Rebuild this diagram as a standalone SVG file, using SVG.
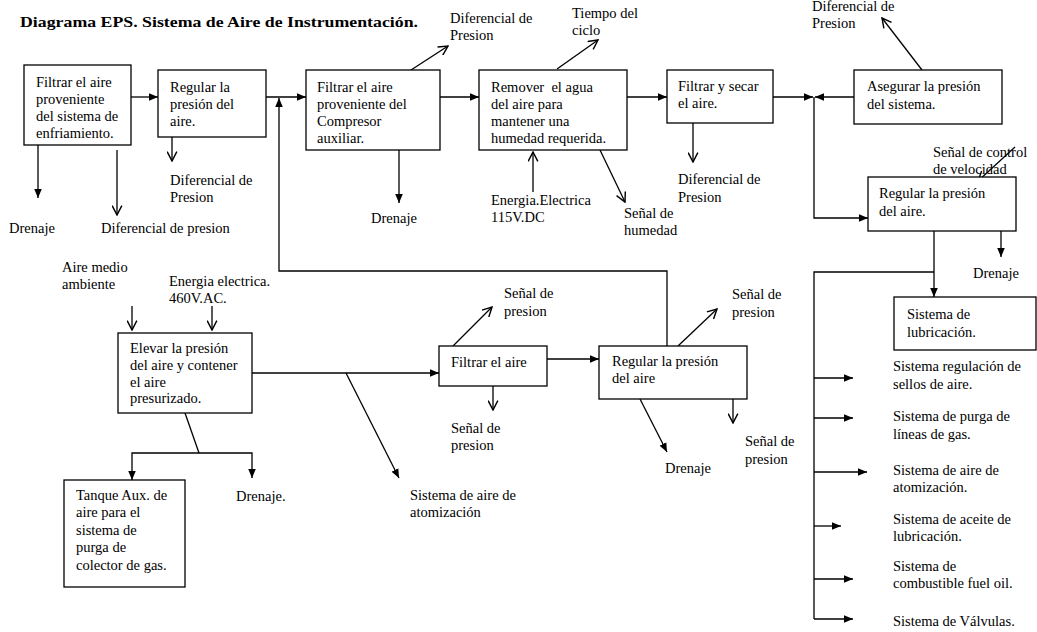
<svg xmlns="http://www.w3.org/2000/svg" width="1037" height="632" viewBox="0 0 1037 632" font-family="Liberation Serif, Tinos, DejaVu Serif, serif">
<style>
.t{font-family:'Liberation Serif',Tinos,'Times New Roman',serif;font-size:14.5px;fill:#000}
.title{font-family:'Liberation Serif',Tinos,'Times New Roman',serif;font-size:15.5px;font-weight:bold;fill:#000}
.box{fill:#fff;stroke:#000;stroke-width:1.3}
.c{fill:none;stroke:#000;stroke-width:1.3}
.f{marker-end:url(#af)}
.v{marker-end:url(#av)}
</style>
<defs>
<marker id="af" viewBox="0 0 10 10" refX="10" refY="5" markerWidth="9" markerHeight="9" markerUnits="userSpaceOnUse" orient="auto"><path d="M0,0.8 L10,5 L0,9.2 z" fill="#000"/></marker>
<marker id="av" viewBox="0 0 10 10" refX="9.3" refY="5" markerWidth="11" markerHeight="11" markerUnits="userSpaceOnUse" orient="auto"><path d="M0.8,0.6 L9.3,5 L0.8,9.4" fill="none" stroke="#000" stroke-width="1.3"/></marker>
</defs>
<rect width="1037" height="632" fill="#fff"/>
<text class="title" x="20" y="27" textLength="398" lengthAdjust="spacingAndGlyphs">Diagrama EPS. Sistema de Aire de Instrumentación.</text>

<g id="connectors">
<path class="c f" d="M131,97 H158"/>
<path class="c f" d="M38,145 V198"/>
<path class="c v" d="M117,150 V215"/>
<path class="c v" d="M172,137 V161"/>
<path class="c f" d="M266,97 H306"/>
<path class="c f" d="M667,346 V271 H279 V98"/>
<path class="c v" d="M411,70 L448,46"/>
<path class="c f" d="M399,150 V203"/>
<path class="c f" d="M440,97 H479"/>
<path class="c v" d="M557,69 L598,40"/>
<path class="c v" d="M533,192 V152"/>
<path class="c v" d="M600,150 L625,202"/>
<path class="c f" d="M627,97 H667"/>
<path class="c v" d="M693,123 V162"/>
<path class="c f" d="M773,97 H813"/>
<path class="c f" d="M854,97 H815"/>
<path class="c v" d="M922,70 L882,18"/>
<path class="c f" d="M814,97 V218 H868"/>
<path class="c v" d="M1015,147 L978,181"/>
<path class="c f" d="M934,231 V297"/>
<path class="c f" d="M1001,231 V257"/>
<path class="c" d="M934,272 H814 V619"/>
<path class="c f" d="M814,378 H853"/>
<path class="c f" d="M814,418 H853"/>
<path class="c f" d="M814,472 H867"/>
<path class="c f" d="M814,526 H841"/>
<path class="c f" d="M814,579 H853"/>
<path class="c f" d="M814,619 H853"/>
<path class="c v" d="M132,306 V330"/>
<path class="c v" d="M212,306 V330"/>
<path class="c f" d="M252,373 H439"/>
<path class="c f" d="M346,373 L399,478"/>
<path class="c" d="M185,413 L199,453"/>
<path class="c f" d="M199,453 H132 V480"/>
<path class="c f" d="M199,453 H252 V478"/>
<path class="c v" d="M453,346 L492,307"/>
<path class="c v" d="M493,386 V410"/>
<path class="c f" d="M547,359 H599"/>
<path class="c v" d="M678,346 L717,309"/>
<path class="c v" d="M733,399 V423"/>
<path class="c f" d="M640,399 L667,452"/>
</g>

<g id="n1"><rect class="box" x="24" y="65" width="107" height="80"/>
<text class="t" x="36" y="87">Filtrar el aire</text><text class="t" x="36" y="104">proveniente</text><text class="t" x="36" y="121">del sistema de</text><text class="t" x="36" y="138">enfriamiento.</text></g>
<g id="n2"><rect class="box" x="158" y="70" width="108" height="67"/>
<text class="t" x="170" y="92">Regular la</text><text class="t" x="170" y="109">presión del</text><text class="t" x="170" y="126">aire.</text></g>
<g id="n3"><rect class="box" x="306" y="70" width="134" height="80"/>
<text class="t" x="317" y="92">Filtrar el aire</text><text class="t" x="317" y="109">proveniente del</text><text class="t" x="317" y="126">Compresor</text><text class="t" x="317" y="143">auxiliar.</text></g>
<g id="n4"><rect class="box" x="479" y="70" width="148" height="80"/>
<text class="t" x="491" y="92">Remover&#160; el agua</text><text class="t" x="491" y="109">del aire para</text><text class="t" x="491" y="126">mantener una</text><text class="t" x="491" y="143">humedad requerida.</text></g>
<g id="n5"><rect class="box" x="667" y="70" width="106" height="53"/>
<text class="t" x="678" y="91">Filtrar y secar</text><text class="t" x="678" y="108">el aire.</text></g>
<g id="n6"><rect class="box" x="854" y="70" width="148" height="54"/>
<text class="t" x="867" y="91">Asegurar la presión</text><text class="t" x="867" y="109">del sistema.</text></g>
<g id="n7"><rect class="box" x="868" y="177" width="148" height="54"/>
<text class="t" x="879" y="198">Regular la presión</text><text class="t" x="879" y="216">del aire.</text></g>
<g id="n8"><rect class="box" x="894" y="297" width="142" height="53"/>
<text class="t" x="907" y="319">Sistema de</text><text class="t" x="907" y="337">lubricación.</text></g>
<g id="n9"><rect class="box" x="118" y="333" width="134" height="80"/>
<text class="t" x="130" y="353">Elevar la presión</text><text class="t" x="130" y="370">del aire y contener</text><text class="t" x="130" y="387">el aire</text><text class="t" x="130" y="403">presurizado.</text></g>
<g id="n10"><rect class="box" x="439" y="346" width="108" height="40"/>
<text class="t" x="451" y="367">Filtrar el aire</text></g>
<g id="n11"><rect class="box" x="64" y="480" width="121" height="107"/>
<text class="t" x="76" y="500">Tanque Aux. de</text><text class="t" x="76" y="517">aire para el</text><text class="t" x="76" y="535">sistema de</text><text class="t" x="76" y="552">purga de</text><text class="t" x="76" y="570">colector de gas.</text></g>
<g id="n12"><rect class="box" x="599" y="346" width="148" height="53"/>
<text class="t" x="612" y="366">Regular la presión</text><text class="t" x="612" y="383">del aire</text></g>

<g id="labels">
<text class="t" x="9" y="233">Drenaje</text>
<text class="t" x="101" y="233">Diferencial de presion</text>
<text class="t" x="170" y="185">Diferencial de</text><text class="t" x="170" y="202">Presion</text>
<text class="t" x="371" y="223">Drenaje</text>
<text class="t" x="450" y="23">Diferencial de</text><text class="t" x="450" y="40">Presion</text>
<text class="t" x="572" y="18">Tiempo del</text><text class="t" x="572" y="35">ciclo</text>
<text class="t" x="491" y="205">Energia.Electrica</text><text class="t" x="491" y="222">115V.DC</text>
<text class="t" x="624" y="218">Señal de</text><text class="t" x="624" y="235">humedad</text>
<text class="t" x="678" y="184">Diferencial de</text><text class="t" x="678" y="202">Presion</text>
<text class="t" x="812" y="11">Diferencial de</text><text class="t" x="812" y="28">Presion</text>
<text class="t" x="933" y="157">Señal de control</text><text class="t" x="933" y="174">de velocidad</text>
<text class="t" x="973" y="278">Drenaje</text>
<text class="t" x="893" y="371">Sistema regulación de</text><text class="t" x="893" y="389">sellos de aire.</text>
<text class="t" x="893" y="421">Sistema de purga de</text><text class="t" x="893" y="439">líneas de gas.</text>
<text class="t" x="893" y="475">Sistema de aire de</text><text class="t" x="893" y="492">atomización.</text>
<text class="t" x="893" y="524">Sistema de aceite de</text><text class="t" x="893" y="541">lubricación.</text>
<text class="t" x="893" y="571">Sistema de</text><text class="t" x="893" y="588">combustible fuel oil.</text>
<text class="t" x="893" y="626">Sistema de Válvulas.</text>
<text class="t" x="62" y="272">Aire medio</text><text class="t" x="62" y="289">ambiente</text>
<text class="t" x="169" y="286">Energia electrica.</text><text class="t" x="169" y="303">460V.AC.</text>
<text class="t" x="504" y="298">Señal de</text><text class="t" x="504" y="316">presion</text>
<text class="t" x="451" y="433">Señal de</text><text class="t" x="451" y="450">presion</text>
<text class="t" x="732" y="299">Señal de</text><text class="t" x="732" y="317">presion</text>
<text class="t" x="745" y="446">Señal de</text><text class="t" x="745" y="464">presion</text>
<text class="t" x="665" y="473">Drenaje</text>
<text class="t" x="410" y="500">Sistema de aire de</text><text class="t" x="410" y="517">atomización</text>
<text class="t" x="236" y="501">Drenaje.</text>
</g>
</svg>
